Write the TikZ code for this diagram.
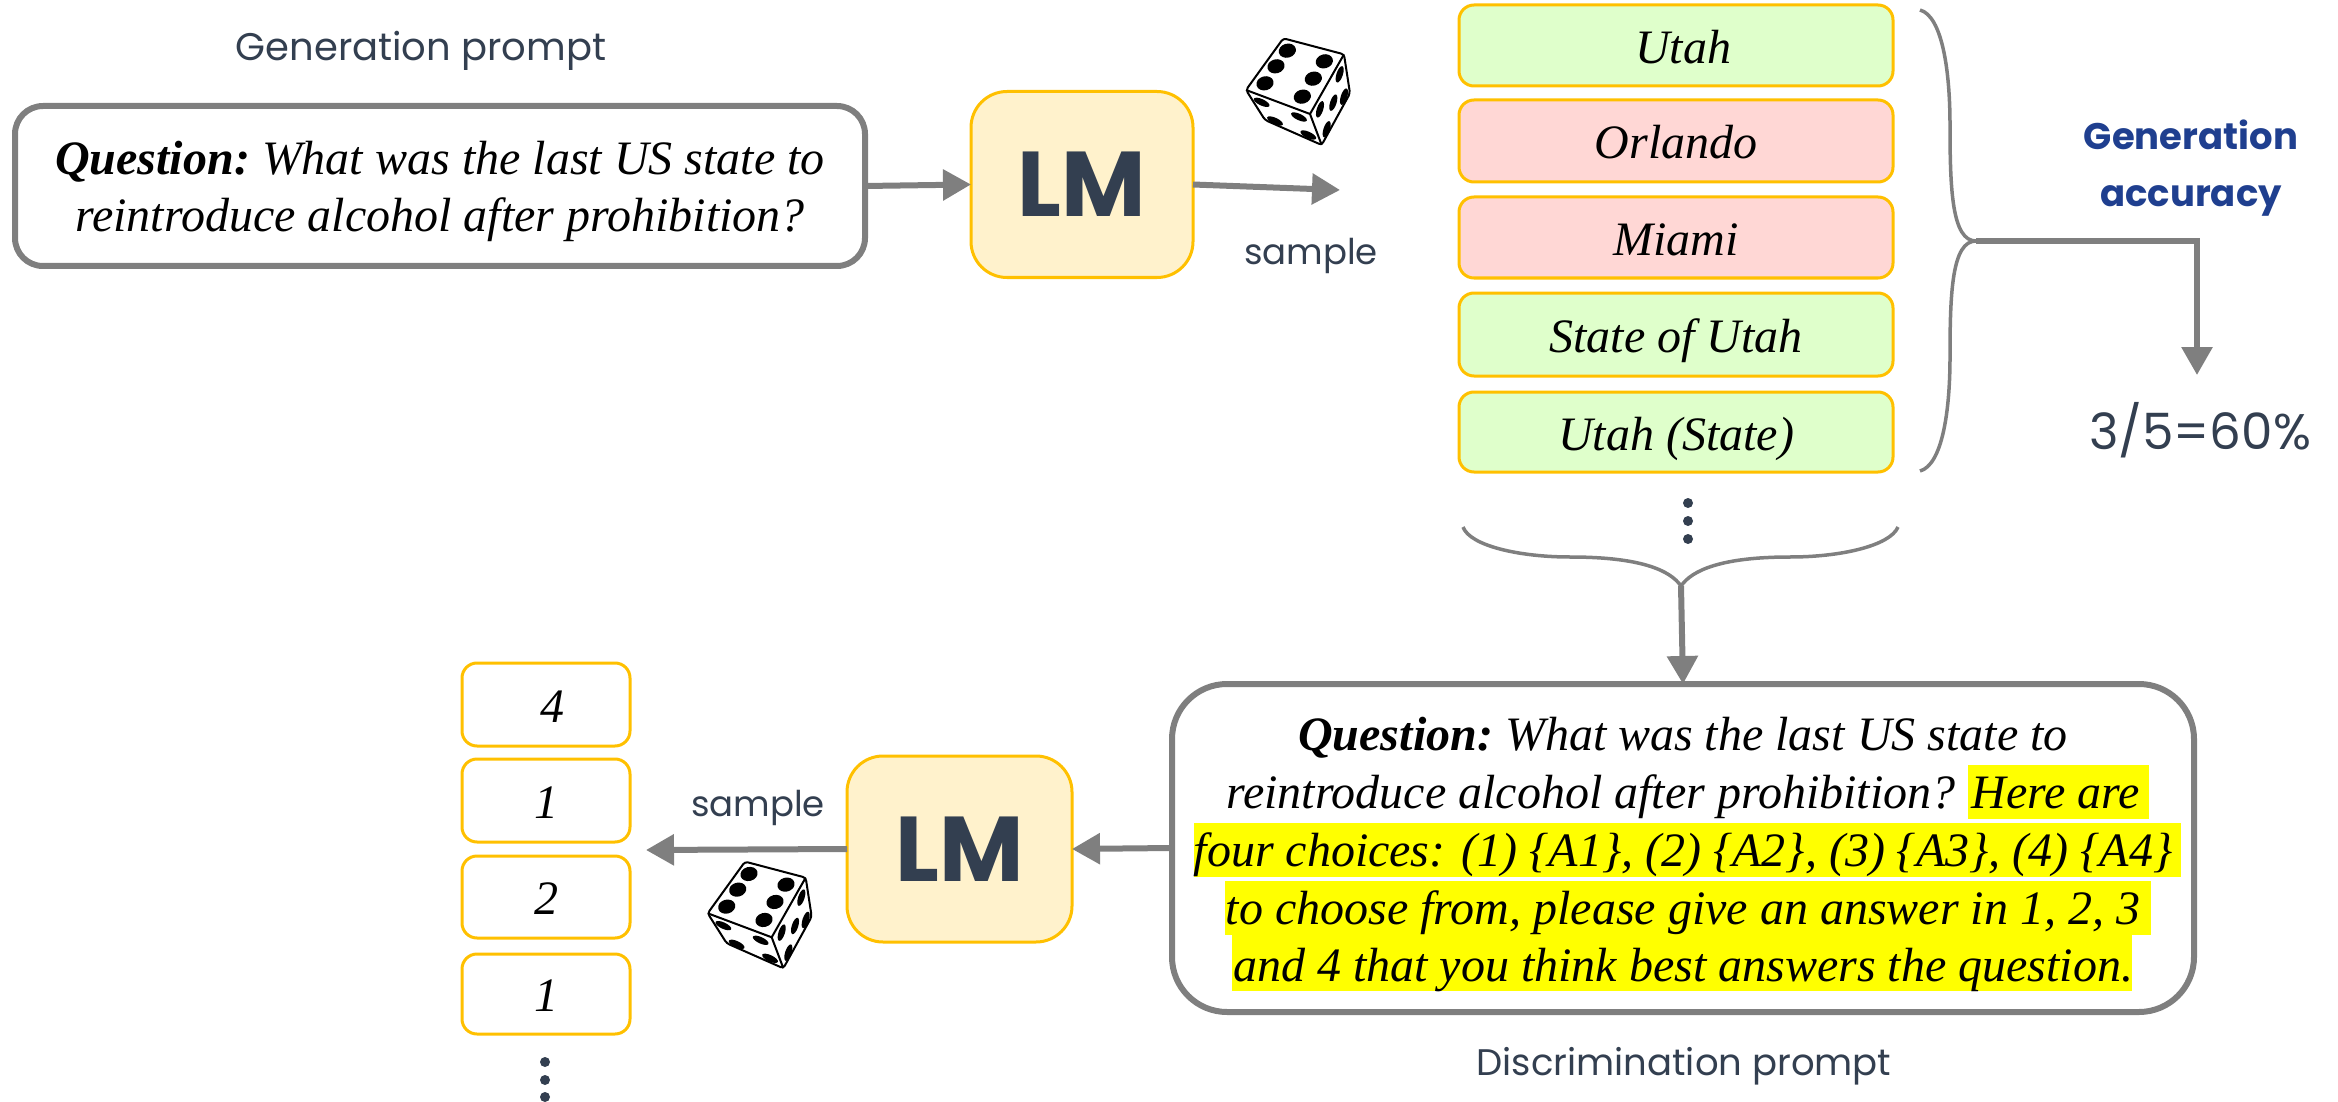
\documentclass[tikz,border=0pt]{standalone}
\usepackage{fontspec}
\setmainfont{Liberation Serif}
\newfontfamily\labelfont{Poppins}
\usetikzlibrary{arrows.meta}
\definecolor{linegray}{HTML}{7F7F7F}
\definecolor{slate}{HTML}{333F50}
\definecolor{amber}{HTML}{FFC000}
\definecolor{cream}{HTML}{FFF2CC}
\definecolor{okgreen}{HTML}{DFFFCB}
\definecolor{badred}{HTML}{FFD7D5}
\definecolor{navy}{HTML}{1F3F8F}
\definecolor{marker}{HTML}{FFFF00}
\tikzset{
  promptbox/.style={draw=linegray,line width=6pt,rounded corners=28pt,inner sep=0pt,outer sep=0pt,align=center,
    font=\fontsize{48}{57}\selectfont\itshape},
  lmbox/.style={draw=amber,fill=cream,line width=3pt,rounded corners=36pt,minimum width=225pt,minimum height=186pt,
    inner sep=0pt,outer sep=0pt,text=slate,font=\labelfont\bfseries\fontsize{92}{92}\selectfont},
  answer/.style={draw=amber,line width=3pt,rounded corners=15pt,minimum width=434pt,inner sep=0pt,outer sep=0pt,
    text=black,font=\fontsize{48}{48}\selectfont\itshape,text height=36pt,text depth=0pt},
  good/.style={answer,fill=okgreen},
  bad/.style={answer,fill=badred},
  choice/.style={draw=amber,line width=3pt,rounded corners=15pt,minimum width=168pt,inner sep=0pt,outer sep=0pt,
    font=\fontsize{48}{48}\selectfont\itshape,text height=35pt,text depth=0pt},
  caption/.style={inner sep=0pt,outer sep=0pt,anchor=base,text=slate,font=\labelfont\fontsize{37}{37}\selectfont},
  samplelabel/.style={caption,font=\labelfont\fontsize{35.5}{35.5}\selectfont},
  accuracy/.style={inner sep=0pt,outer sep=0pt,anchor=base,text=navy,font=\labelfont\bfseries\fontsize{37}{37}\selectfont},
  arrowline/.style={draw=linegray,line width=6pt,-{Triangle[length=28pt,width=30pt,fill=linegray]}},
  brace/.style={draw=linegray,line width=3.5pt},
  dot/.style={circle,fill=slate,minimum size=10pt,inner sep=0pt,outer sep=0pt},
  hilite/.style={fill=marker,draw=none},
}
\newcommand{\dicepic}[2]{%
\begin{scope}[shift={(#1,#2)},x=0.3333pt,y=-0.3333pt]
  \draw[black,line width=2pt,fill=white,rounded corners=3pt,line join=round]
    (250,55) -- (432,103) -- (450,220) -- (365,375) -- (195,300) -- (138,210) -- cycle;
  \draw[black,line width=2pt,line join=round] (138,210) -- (330,282) -- (432,103);
  \draw[black,line width=2pt] (330,282) -- (365,375);
  \foreach \px/\py in {262/92,228/139,195/190,373/124,340/176,307/230}
    \fill[rotate around={15:(\px,\py)}] (\px,\py) ellipse [x radius=8.7pt,y radius=7pt];
  \foreach \px/\py in {419/163,432/230,400/248,360/268,380/328}
    \fill[rotate around={72:(\px,\py)}] (\px,\py) ellipse [x radius=8.6pt,y radius=3.2pt];
  \foreach \px/\py in {185/247,225/303,297/291,325/345}
    \fill[rotate around={-25:(\px,\py)}] (\px,\py) ellipse [x radius=8.6pt,y radius=3.2pt];
\end{scope}}
\begin{document}
\begin{tikzpicture}[x=1pt,y=-1pt]
\useasboundingbox (0,0) rectangle (2338,1102);

% generation side
\node[caption,font=\labelfont\fontsize{38.5}{38.5}\selectfont] (genlabel) at (421,61) {Generation prompt};
\node[promptbox,minimum width=850pt,minimum height=160pt] (genbox) at (440,186)
  {\rule{0pt}{44pt}\textbf{Question:}\kern-4pt{} What was the last US state to\\reintroduce alcohol after prohibition?};
\node[lmbox,minimum width=222pt] (lmtop) at (1082,184.5) {LM};
\coordinate (sampleend) at (1340,190);
\draw[arrowline] (genbox.east) -- (lmtop.west);
\draw[arrowline] (lmtop.east) -- (sampleend);
\node[samplelabel] (sampletop) at (1311,265) {sample};
\dicepic{1200}{20}

\node[good,minimum height=81pt] (a1) at (1676,45.5) {\hspace*{14pt}Utah};
\node[bad,minimum height=82pt] (a2) at (1676,141) {Orlando};
\node[bad,minimum height=81pt] (a3) at (1676,237.5) {Miami};
\node[good,minimum height=83pt] (a4) at (1676,334.5) {State of Utah};
\node[good,minimum height=80pt] (a5) at (1676,432) {Utah (State)};
\node[dot] (d1) at (1688,503) {};
\node[dot] (d2) at (1688,521) {};
\node[dot] (d3) at (1688,539) {};

% right brace and accuracy
\coordinate (rtop) at (1920,10);
\coordinate (rbot) at (1920,471);
\coordinate (rtip) at (1976,241);
\draw[brace] (rtop) .. controls (1942,16) and (1950,70) .. (1950,125)
  .. controls (1950,190) and (1952,241) .. (rtip)
  .. controls (1952,241) and (1950,292) .. (1950,357)
  .. controls (1950,412) and (1942,465) .. (rbot);
\coordinate (rcorner) at (2197,241);
\coordinate (rend) at (2197,375);
\draw[arrowline,rounded corners=0pt] (rtip) -- (rcorner) -- (rend);
\node[accuracy] (acc1) at (2191,150) {Generation};
\node[accuracy] (acc2) at (2191,207) {accuracy};
\node[caption,font=\labelfont\fontsize{50}{50}\selectfont] (ratio) at (2200,449) {3/5=60\%};

% bottom brace
\coordinate (bleft) at (1463,527);
\coordinate (bright) at (1898,527);
\coordinate (btip) at (1681,586);
\draw[brace] (bleft) .. controls (1470,546) and (1520,557) .. (1570,557)
  .. controls (1640,557) and (1670,570) .. (btip)
  .. controls (1692,570) and (1722,557) .. (1790,557)
  .. controls (1840,557) and (1890,546) .. (bright);

% discrimination prompt
\fill[hilite] (1968,765) rectangle (2149,819);
\fill[hilite] (1194,823) rectangle (2181,877);
\fill[hilite] (1225,881) rectangle (2151,935);
\fill[hilite] (1232,935) rectangle (2132,991);
\node[promptbox,font=\fontsize{48}{57.8}\selectfont\itshape,rounded corners=55pt,minimum width=1022pt,minimum height=328pt] (discbox) at (1683,848)
  {\rule{0pt}{47pt}\textbf{Question:}\kern-4pt{} What was the last US state to\\
   reintroduce alcohol after prohibition? Here are\\
   four choices: (1) \{A1\}, (2) \{A2\}, (3) \{A3\}, (4) \{A4\}\\
   to choose from, please give an answer in 1, 2, 3\\
   and 4 that you think best answers the question.};
\draw[arrowline] (btip) -- (discbox.north);
\node[caption] (disclabel) at (1684,1075) {Discrimination prompt};
\node[lmbox] (lmbot) at (959.5,849) {LM};
\draw[arrowline] (discbox.west) -- (lmbot.east);
\coordinate (choiceend) at (646,850);
\draw[arrowline] (lmbot.west) -- (choiceend);
\node[samplelabel] (samplebot) at (758,816) {sample};
\dicepic{661.7}{843.3}

\node[choice,minimum height=83pt] (c1) at (546,704.5) {\hspace*{12pt}4};
\node[choice,minimum height=83pt] (c2) at (546,800.5) {1};
\node[choice,minimum height=82pt] (c3) at (546,897) {2};
\node[choice,minimum height=80pt] (c4) at (546,994) {1};
\node[dot] (d4) at (545,1062) {};
\node[dot] (d5) at (545,1080) {};
\node[dot] (d6) at (545,1097) {};
\end{tikzpicture}
\end{document}
